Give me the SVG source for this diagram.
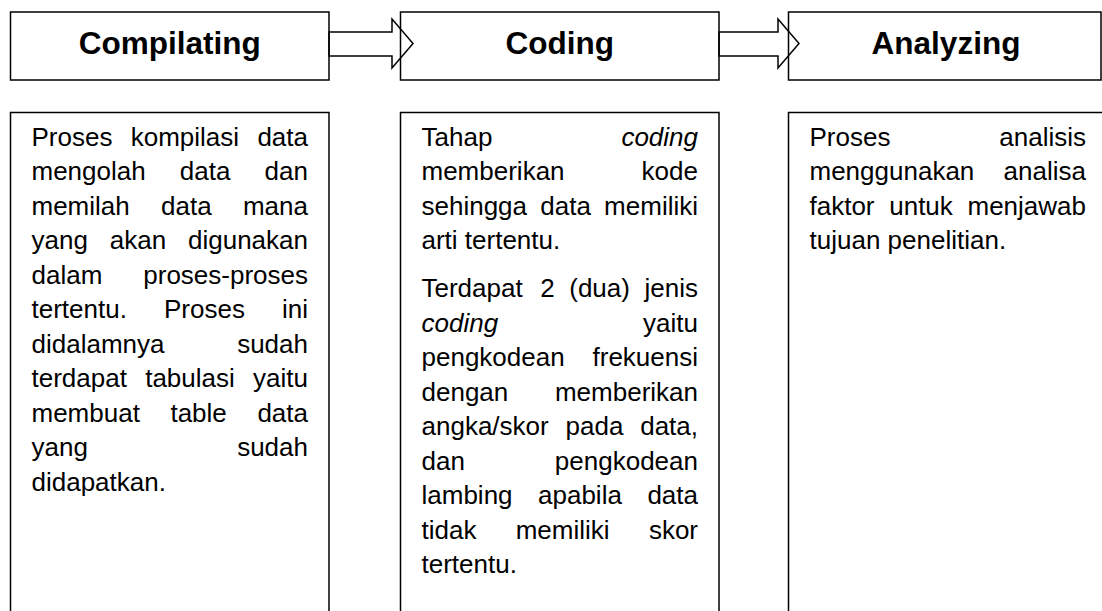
<svg xmlns="http://www.w3.org/2000/svg" width="1102" height="611" viewBox="0 0 1102 611">
  <style>
    .box { fill: #fff; stroke: #000; stroke-width: 1.5; }
    .arrow { fill: none; stroke: #000; stroke-width: 1.5; stroke-linejoin: miter; }
    .title { font-family: "Liberation Sans", Arial, sans-serif; font-weight: bold; font-size: 31.5px; fill: #000; text-anchor: middle; }
    .body { font-family: "Liberation Sans", Arial, sans-serif; font-size: 26px; fill: #000; }
    .e { text-anchor: end; }
    .m { text-anchor: middle; }
    .i { font-style: italic; }
  </style>

  <rect width="1102" height="611" fill="#fff"/>

  <!-- stage headers -->
  <g id="compilating">
    <rect class="box" x="10.5" y="12" width="318.5" height="68"/>
    <text class="title" x="169.75" y="54">Compilating</text>
  </g>
  <g id="coding">
    <rect class="box" x="400.5" y="12" width="318.5" height="68"/>
    <text class="title" x="559.75" y="54">Coding</text>
  </g>
  <g id="analyzing">
    <rect class="box" x="788.5" y="12" width="312.5" height="68"/>
    <text class="title" x="946" y="54">Analyzing</text>
  </g>

  <!-- block arrows between stages -->
  <g id="connectors">
    <polygon class="arrow" points="329,32 392,32 392,19 413,43.5 392,68 392,56 329,56"/>
    <polygon class="arrow" points="719,32 778,32 778,19 799,43.5 778,68 778,56 719,56"/>
  </g>

  <!-- description: compilating (justified lines, words placed one by one) -->
  <g id="compilating-desc">
    <rect class="box" x="10.5" y="112.5" width="318.5" height="520"/>
    <text class="body" y="145.5"><tspan x="31.5">Proses</tspan><tspan class="m" x="184.9">kompilasi</tspan><tspan class="e" x="308">data</tspan></text>
    <text class="body" y="180"><tspan x="31.5">mengolah</tspan><tspan class="m" x="205.15">data</tspan><tspan class="e" x="308">dan</tspan></text>
    <text class="body" y="214.5"><tspan x="31.5">memilah</tspan><tspan class="m" x="186.35">data</tspan><tspan class="e" x="308">mana</tspan></text>
    <text class="body" y="249"><tspan x="31.5">yang</tspan><tspan class="m" x="137.96">akan</tspan><tspan class="e" x="308">digunakan</tspan></text>
    <text class="body" y="283.5"><tspan x="31.5">dalam</tspan><tspan class="e" x="308">proses-proses</tspan></text>
    <text class="body" y="318"><tspan x="31.5">tertentu.</tspan><tspan class="m" x="204.45">Proses</tspan><tspan class="e" x="308">ini</tspan></text>
    <text class="body" y="352.5"><tspan x="31.5">didalamnya</tspan><tspan class="e" x="308">sudah</tspan></text>
    <text class="body" y="387"><tspan x="31.5">terdapat</tspan><tspan class="m" x="189.99">tabulasi</tspan><tspan class="e" x="308">yaitu</tspan></text>
    <text class="body" y="421.5"><tspan x="31.5">membuat</tspan><tspan class="m" x="198.64">table</tspan><tspan class="e" x="308">data</tspan></text>
    <text class="body" y="456"><tspan x="31.5">yang</tspan><tspan class="e" x="308">sudah</tspan></text>
    <text class="body" x="31.5" y="490.5">didapatkan.</text>
  </g>

  <!-- description: coding -->
  <g id="coding-desc">
    <rect class="box" x="400.5" y="112.5" width="318.5" height="520"/>
    <text class="body" y="145.5"><tspan x="421.5">Tahap</tspan><tspan class="e i" x="698">coding</tspan></text>
    <text class="body" y="180"><tspan x="421.5">memberikan</tspan><tspan class="e" x="698">kode</tspan></text>
    <text class="body" y="214.5"><tspan x="421.5">sehingga</tspan><tspan class="m" x="565.58">data</tspan><tspan class="e" x="698">memiliki</tspan></text>
    <text class="body" x="421.5" y="249">arti tertentu.</text>
    <text class="body" y="297"><tspan x="421.5">Terdapat</tspan><tspan x="540.17">2</tspan><tspan x="569.25">(dua)</tspan><tspan class="e" x="698">jenis</tspan></text>
    <text class="body" y="331.5"><tspan class="i" x="421.5">coding</tspan><tspan class="e" x="698">yaitu</tspan></text>
    <text class="body" y="366"><tspan x="421.5">pengkodean</tspan><tspan class="e" x="698">frekuensi</tspan></text>
    <text class="body" y="400.5"><tspan x="421.5">dengan</tspan><tspan class="e" x="698">memberikan</tspan></text>
    <text class="body" y="435"><tspan x="421.5">angka/skor</tspan><tspan class="m" x="594.43">pada</tspan><tspan class="e" x="698">data,</tspan></text>
    <text class="body" y="469.5"><tspan x="421.5">dan</tspan><tspan class="e" x="698">pengkodean</tspan></text>
    <text class="body" y="504"><tspan x="421.5">lambing</tspan><tspan class="m" x="579.97">apabila</tspan><tspan class="e" x="698">data</tspan></text>
    <text class="body" y="538.5"><tspan x="421.5">tidak</tspan><tspan class="m" x="562.65">memiliki</tspan><tspan class="e" x="698">skor</tspan></text>
    <text class="body" x="421.5" y="573">tertentu.</text>
  </g>

  <!-- description: analyzing -->
  <g id="analyzing-desc">
    <rect class="box" x="788.5" y="112.5" width="318.5" height="520"/>
    <text class="body" y="145.5"><tspan x="809.5">Proses</tspan><tspan class="e" x="1086">analisis</tspan></text>
    <text class="body" y="180"><tspan x="809.5">menggunakan</tspan><tspan class="e" x="1086">analisa</tspan></text>
    <text class="body" y="214.5"><tspan x="809.5">faktor</tspan><tspan class="m" x="921.03">untuk</tspan><tspan class="e" x="1086">menjawab</tspan></text>
    <text class="body" x="809.5" y="249">tujuan penelitian.</text>
  </g>
</svg>
